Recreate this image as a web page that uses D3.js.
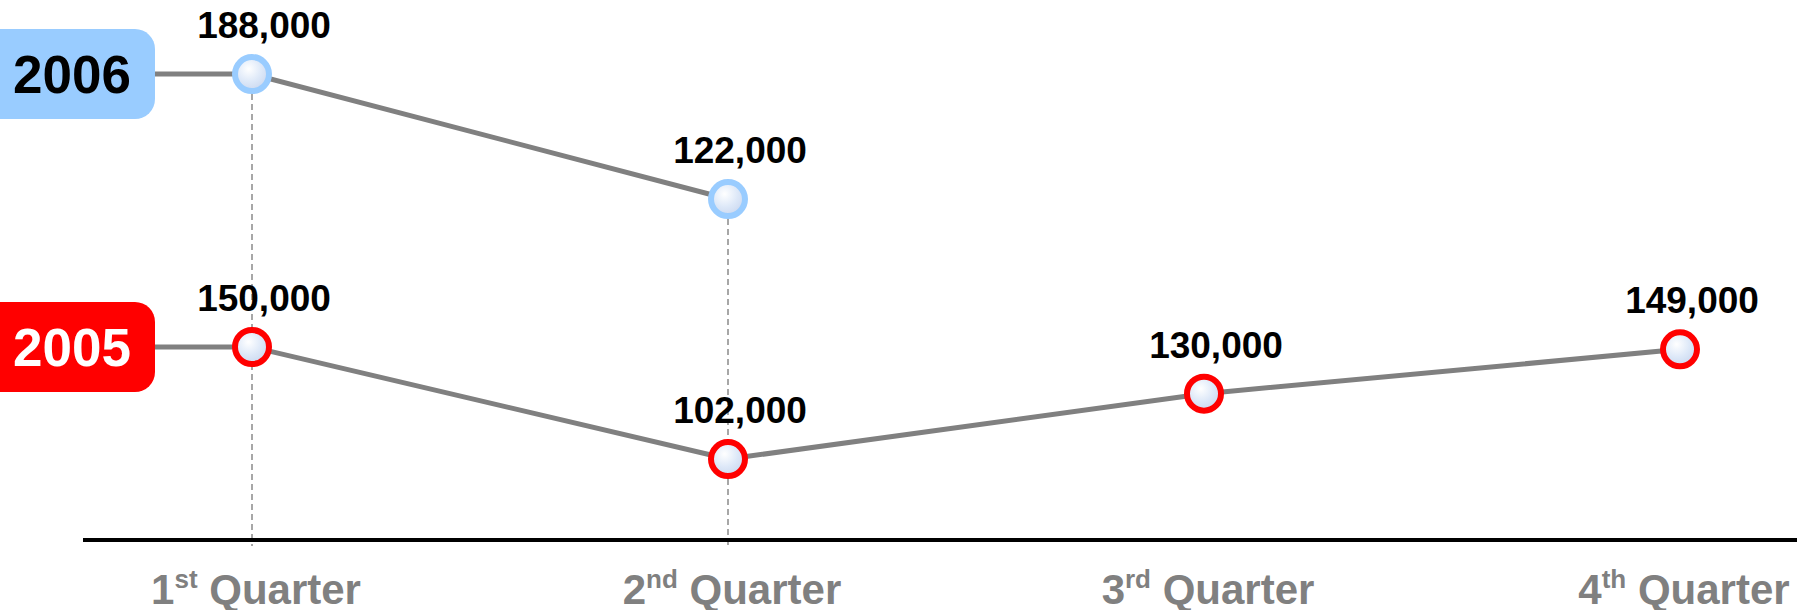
<!DOCTYPE html>
<html>
<head>
<meta charset="utf-8">
<script src="https://cdn.jsdelivr.net/npm/d3@7"></script>
<style>
  html, body { margin: 0; padding: 0; background: #fff; }
  svg { display: block; font-family: "Liberation Sans", Arial, sans-serif; }
</style>
</head>
<body>
<svg id="chart" width="1797" height="610"></svg>
<script>
var quarters = ["1st Quarter", "2nd Quarter", "3rd Quarter", "4th Quarter"];
var quarterNum = ["1", "2", "3", "4"];
var quarterSup = ["st", "nd", "rd", "th"];
var years = ["2006", "2005"];
var values2006 = [188000, 122000];
var values2005 = [150000, 102000, 130000, 149000];

var width = 1797, height = 610;
var lineGray = "#808080";
var svg = d3.select("#chart");

var defs = svg.append("defs");
var grad = defs.append("radialGradient").attr("id", "ball")
    .attr("cx", "40%").attr("cy", "35%").attr("r", "70%");
grad.append("stop").attr("offset", "0%").attr("stop-color", "#ffffff");
grad.append("stop").attr("offset", "55%").attr("stop-color", "#dde8f8");
grad.append("stop").attr("offset", "100%").attr("stop-color", "#c9d6ee");

var x = d3.scalePoint().domain(quarters).range([252, 1680]);

// each year sits in its own band of the chart
var y2006 = d3.scaleLinear().domain([100000, 200000]).range([240.7, 51.3]);
var y2005 = d3.scaleLinear().domain([100000, 200000]).range([463.7, 230.3]);

var series = [
  { year: years[0], values: values2006, y: y2006, box: "#99ccff", text: "#000", ring: "#99ccff" },
  { year: years[1], values: values2005, y: y2005, box: "#ff0000", text: "#fff", ring: "#ff0000" }
];

var axisY = 540;

// dashed drop lines from the 2006 points
svg.selectAll(".drop").data(values2006).enter().append("line")
    .attr("x1", function (d, i) { return x(quarters[i]); })
    .attr("x2", function (d, i) { return x(quarters[i]); })
    .attr("y1", function (d) { return y2006(d); })
    .attr("y2", axisY + 6)
    .attr("stroke", "#8a8a8a")
    .attr("stroke-width", 1.5)
    .attr("stroke-dasharray", "6,4");

// x axis line
svg.append("line")
    .attr("x1", 83).attr("x2", width)
    .attr("y1", axisY).attr("y2", axisY)
    .attr("stroke", "#000").attr("stroke-width", 4);

// quarter labels with superscripts
var qLab = svg.selectAll(".qlab").data(quarters).enter().append("text")
    .attr("x", function (d) { return x(d) + 4; })
    .attr("y", 604)
    .attr("text-anchor", "middle")
    .attr("fill", "#808080")
    .attr("font-weight", "bold")
    .attr("font-size", 42);
qLab.append("tspan").text(function (d, i) { return quarterNum[i]; });
qLab.append("tspan").attr("font-size", 26).attr("dy", -16)
    .text(function (d, i) { return quarterSup[i]; });
qLab.append("tspan").attr("dy", 16).text(" Quarter");

series.forEach(function (s) {
  var y0 = s.y(s.values[0]);
  var pts = s.values.map(function (v, i) { return [x(quarters[i]), s.y(v)]; });

  // lead-in from the year badge, then the series line
  svg.append("path")
      .attr("d", d3.line()([[150, y0]].concat(pts)))
      .attr("fill", "none")
      .attr("stroke", lineGray)
      .attr("stroke-width", 5)
      .attr("stroke-linejoin", "round");

  svg.append("rect")
      .attr("x", -20).attr("y", y0 - 45)
      .attr("width", 175).attr("height", 90)
      .attr("rx", 20).attr("ry", 20)
      .attr("fill", s.box);
  svg.append("text")
      .attr("x", 72).attr("y", y0 + 19)
      .attr("text-anchor", "middle")
      .attr("font-size", 53).attr("font-weight", "bold")
      .attr("fill", s.text)
      .text(s.year);

  svg.selectAll(null).data(s.values).enter().append("circle")
      .attr("cx", function (d, i) { return x(quarters[i]); })
      .attr("cy", function (d) { return s.y(d); })
      .attr("r", 17)
      .attr("fill", "url(#ball)")
      .attr("stroke", s.ring)
      .attr("stroke-width", 6);

  svg.selectAll(null).data(s.values).enter().append("text")
      .attr("x", function (d, i) { return x(quarters[i]) + 12; })
      .attr("y", function (d) { return s.y(d) - 36; })
      .attr("text-anchor", "middle")
      .attr("font-size", 37).attr("font-weight", "bold")
      .attr("fill", "#000")
      .text(function (d) { return d3.format(",")(d); });
});
</script>
</body>
</html>
